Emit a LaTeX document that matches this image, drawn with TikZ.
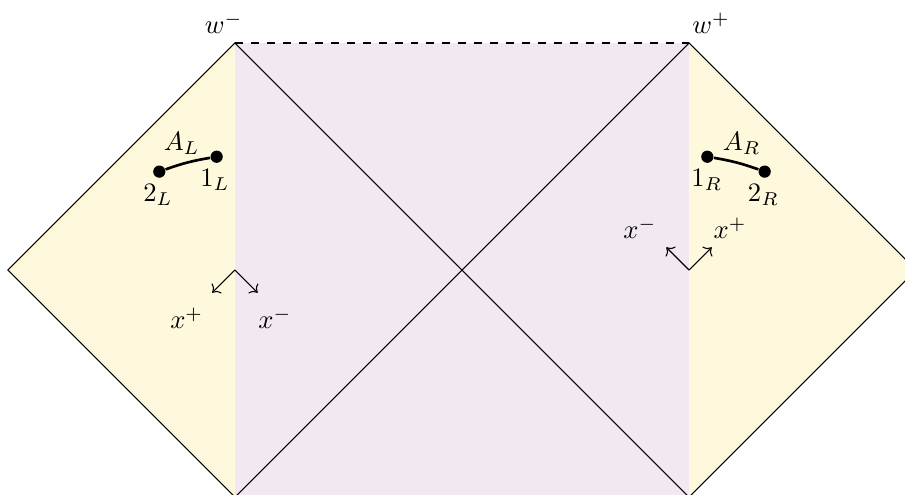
\documentclass[tikz,border=0pt]{standalone}
\usepackage{amsmath,amssymb}
\usepackage{tikz}
\usetikzlibrary{arrows.meta,positioning,calc}
\definecolor{wedgeyellow}{HTML}{FEF9DC}
\definecolor{bulkpurple}{HTML}{F2E8F2}
\tikzset{
  % randen
  bd/.style={draw=black,line width=0.4pt},
  hz/.style={draw=black,line width=0.4pt,dashed},
  % punkter
  pt/.style={circle,fill=black,inner sep=0pt,minimum size=4.6pt},
  seg/.style={draw=black,line width=1pt},
  lbl/.style={inner sep=1pt},
  ax/.style={->,draw=black,line width=0.4pt},
}

\begin{document}
\begin{tikzpicture}
\clip (-6.105,-2.96) rectangle (5.854,3.568);
  % hörn
  \coordinate (wm) at (-3,3);
  \coordinate (wp) at (3,3);
  \coordinate (bl) at (-3,-3);
  \coordinate (br) at (3,-3);
  \coordinate (tl) at (-6,0);
  \coordinate (tr) at (6,0);
  % fyllning
  \fill[wedgeyellow] (tl) -- (wm) -- (bl) -- cycle;
  \fill[wedgeyellow] (tr) -- (wp) -- (br) -- cycle;
  \fill[bulkpurple] (wm) rectangle (br);
  % linjer
  \draw[bd] (bl) -- (tl) -- (wm) -- (br) -- (tr) -- (wp) -- (bl);
  \draw[hz] (wm) -- (wp);
  \node[lbl] (wmlab) at (-3.15,3.26) {$w^-$};
  \node[lbl] (wplab) at (3.29,3.26) {$w^+$};
  % vänster intervall
  \node[pt] (twoL) at (-4,1.3) {};
  \node[pt] (oneL) at (-3.242,1.497) {};
  \draw[seg] (twoL) to[bend left=5] (oneL);
  \node[lbl] (AL) at (-3.704,1.674) {$A_L$};
  \node[lbl] (twoLlab) at (-4.017,0.991) {$2_L$};
  \node[lbl] (oneLlab) at (-3.264,1.189) {$1_L$};
  % höger intervall
  \node[pt] (oneR) at (3.242,1.497) {};
  \node[pt] (twoR) at (4,1.3) {};
  \draw[seg] (oneR) to[bend left=5] (twoR);
  \node[lbl] (AR) at (3.696,1.674) {$A_R$};
  \node[lbl] (oneRlab) at (3.234,1.189) {$1_R$};
  \node[lbl] (twoRlab) at (3.982,0.991) {$2_R$};
  % ljuskoner
  \coordinate (oL) at (-3,0);
  \coordinate (oLp) at (-3.3,-0.3);
  \coordinate (oLm) at (-2.7,-0.3);
  \draw[ax] (oL) -- (oLp);
  \draw[ax] (oL) -- (oLm);
  \node[lbl] (xpL) at (-3.638,-0.638) {$x^+$};
  \node[lbl] (xmL) at (-2.471,-0.638) {$x^-$};
  \coordinate (oR) at (3,0);
  \coordinate (oRm) at (2.7,0.3);
  \coordinate (oRp) at (3.3,0.3);
  \draw[ax] (oR) -- (oRm);
  \draw[ax] (oR) -- (oRp);
  \node[lbl] (xmR) at (2.352,0.551) {$x^-$};
  \node[lbl] (xpR) at (3.542,0.551) {$x^+$};
\end{tikzpicture}
\end{document}
